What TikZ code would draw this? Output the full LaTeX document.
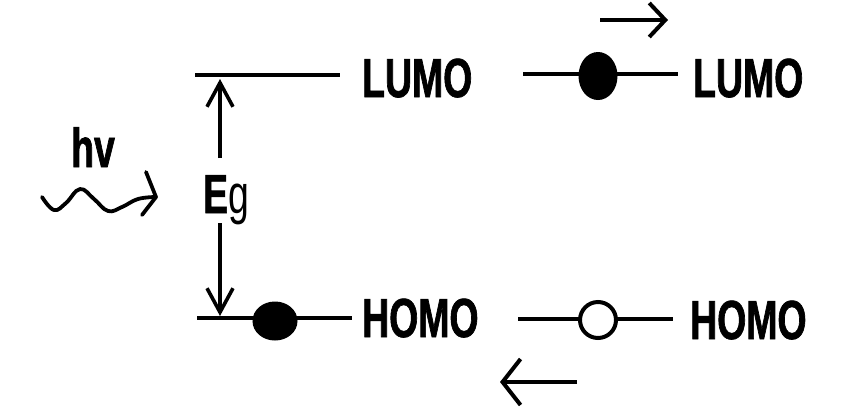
\documentclass[tikz,border=0pt]{standalone}
\usepackage{fontspec}
\setmainfont{Liberation Sans}
\newfontfamily\lab[FakeStretch=0.68,BoldFeatures={FakeBold=1.2}]{Liberation Sans}
\usetikzlibrary{arrows.meta,shapes.geometric}
\begin{document}
\begin{tikzpicture}[x=1bp,y=-1bp,
  lvl/.style={line width=4.2bp},
  txt/.style={inner sep=0pt,anchor=base west,font=\lab\bfseries\fontsize{55bp}{60bp}\selectfont},
  dotf/.style={ellipse,fill=black,draw=black,line width=1bp,inner sep=0pt},
  doto/.style={ellipse,draw=black,fill=white,line width=4bp,inner sep=0pt,minimum width=36bp,minimum height=36bp},
  arr/.style={line width=4bp,-{Straight Barb[length=16bp,width=34bp,line width=4bp]}},
  varr/.style={line width=3.6bp,-{Straight Barb[length=24bp,width=26bp,line width=3.6bp]}}]
\useasboundingbox (0,0) rectangle (841,410);
% levels (left)
\coordinate (l1a) at (195,75); \coordinate (l1b) at (340,75);
\coordinate (h1a) at (197,318); \coordinate (h1b) at (352,318);
\draw[lvl] (l1a) -- (l1b);
\draw[lvl] (h1a) -- (h1b);
\node[txt] (lumo1) at (362,97) {LUMO};
\node[txt] (homo1) at (362,337) {HOMO};
\node[dotf,minimum width=44bp,minimum height=38bp] (e1) at (275,321) {};
% levels (right)
\coordinate (l2a) at (523,74); \coordinate (l2b) at (678,74);
\coordinate (h2a) at (518,319); \coordinate (h2b) at (673,319);
\draw[lvl] (l2a) -- (l2b);
\draw[lvl] (h2a) -- (h2b);
\node[dotf,minimum width=38bp,minimum height=47bp] (e2) at (598,76) {};
\node[doto] (hole) at (598,320) {};
\node[txt] (lumo2) at (693,97) {LUMO};
\node[txt] (homo2) at (690,339) {HOMO};
% Eg arrow
\node[inner sep=0pt,anchor=base,font=\lab\fontsize{55bp}{60bp}\selectfont] (eg) at (226,213) {{\bfseries E}g};
\coordinate (vt1) at (220,158); \coordinate (vt2) at (220,79);
\coordinate (vb1) at (220,223); \coordinate (vb2) at (220,316);
\draw[varr] (vt1) -- (vt2);
\draw[varr] (vb1) -- (vb2);
% hv
\node[txt] (hv) at (71,167) {hv};
\coordinate (w9) at (156,197);
\draw[line width=3.8bp,line cap=round,line join=round] plot[smooth,tension=0.7] coordinates {(42,197) (54,210) (66,203) (80,189) (94,199) (108,211) (122,207) (138,199) (156,197)};
\coordinate (wh1) at (146,172); \coordinate (wh2) at (142,215);
\draw[line width=3.8bp,line cap=round,line join=round] (wh1) -- (w9) -- (wh2);
% carrier motion arrows
\coordinate (ta) at (600,20); \coordinate (tb) at (668,20);
\draw[arr] (ta) -- (tb);
\coordinate (ba) at (577,382); \coordinate (bb) at (500,382);
\draw[line width=4bp,-{Straight Barb[length=18bp,width=46bp,line width=4bp]}] (ba) -- (bb);
\end{tikzpicture}
\end{document}
